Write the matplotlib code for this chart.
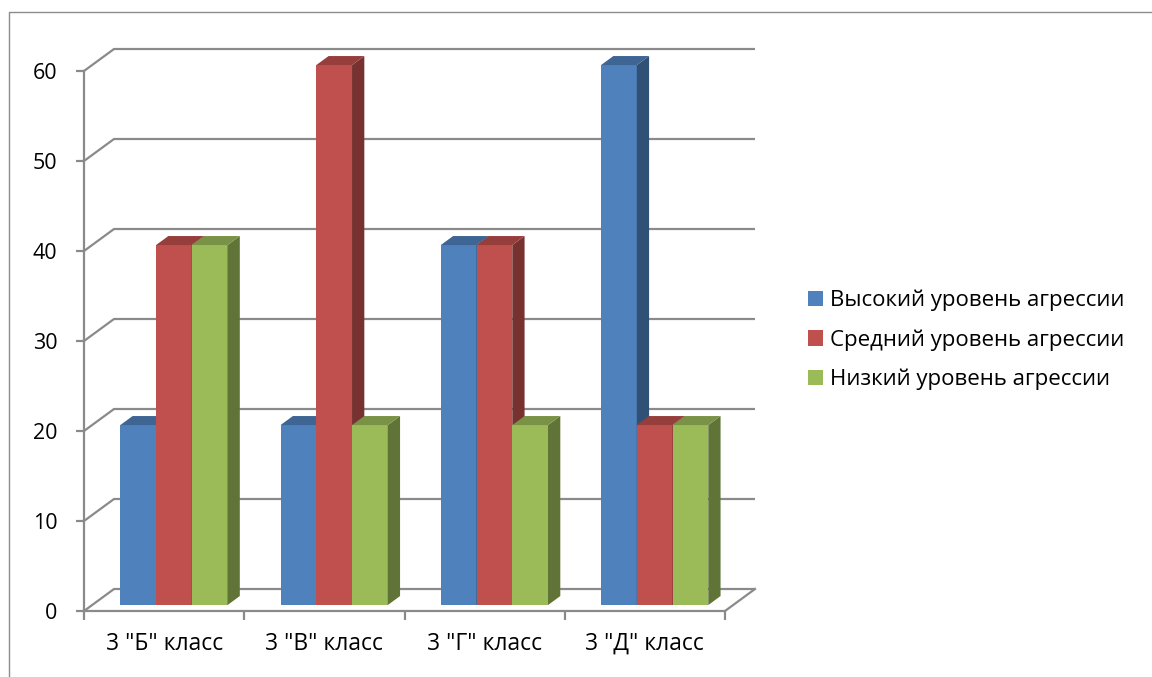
import numpy as np
import matplotlib
matplotlib.use("Agg")
import matplotlib.pyplot as plt
from matplotlib.patches import Polygon, Patch
from matplotlib.lines import Line2D

plt.rcParams['font.family'] = ['Open Sans', 'DejaVu Sans']

# данные диаграммы
classes = ['3 "Б" класс', '3 "В" класс', '3 "Г" класс', '3 "Д" класс']
series_names = ['Высокий уровень агрессии', 'Средний уровень агрессии', 'Низкий уровень агрессии']
high = [20, 20, 40, 60]
mid = [40, 60, 40, 20]
low = [40, 20, 20, 20]
y_ticks = [0, 10, 20, 30, 40, 50, 60]

values = [high, mid, low]
colors = ['#4F81BD', '#C0504D', '#9BBB59']
grid_col = '#8a8a8a'

# псевдо-3D: смещение "глубины" в единицах данных
DX = 30 / 160.25
DY = 22 / 9.0
f0, f1 = 0.27, 0.68       # передняя и задняя грани столбиков
bar_w = 0.223
bar_off = 0.176


def proj(x, y, d):
    return (x + d * DX, y + d * DY)


def shade(c, k):
    rgb = np.array(matplotlib.colors.to_rgb(c))
    return tuple(rgb * k)


fig = plt.figure(figsize=(11.52, 6.77), dpi=100)
ax = fig.add_axes([84 / 1152, (677 - 611) / 677, 641 / 1152, 540 / 677])
ax.set_xlim(0, len(classes))
ax.set_ylim(0, 60)
ax.patch.set_visible(False)

n = len(classes)

# сетка: задняя стенка + боковые диагонали
for v in y_ticks:
    pts = [proj(0, v, 0), proj(0, v, 1), proj(n, v, 1)]
    ax.plot([p[0] for p in pts], [p[1] for p in pts], color=grid_col, lw=1.6,
            clip_on=False, zorder=1, solid_capstyle='butt')
# правый край пола
p1, p2 = proj(n, 0, 1), proj(n, 0, 0)
ax.plot([p1[0], p2[0]], [p1[1], p2[1]], color=grid_col, lw=1.6, clip_on=False, zorder=1)

# столбики
for i in range(n):
    for j in range(len(values)):
        v = values[j][i]
        x0 = i + bar_off + j * bar_w
        x1 = x0 + bar_w
        c = colors[j]
        front = [proj(x0, 0, f0), proj(x1, 0, f0), proj(x1, v, f0), proj(x0, v, f0)]
        side = [proj(x1, 0, f0), proj(x1, 0, f1), proj(x1, v, f1), proj(x1, v, f0)]
        top = [proj(x0, v, f0), proj(x1, v, f0), proj(x1, v, f1), proj(x0, v, f1)]
        ax.add_patch(Polygon(front, closed=True, facecolor=c, edgecolor='none',
                             clip_on=False, zorder=3))
        ax.add_patch(Polygon(side, closed=True, facecolor=shade(c, 0.62), edgecolor='none',
                             clip_on=False, zorder=3))
        ax.add_patch(Polygon(top, closed=True, facecolor=shade(c, 0.78), edgecolor='none',
                             clip_on=False, zorder=3))

# оси
for s in ['top', 'right']:
    ax.spines[s].set_visible(False)
for s in ['left', 'bottom']:
    ax.spines[s].set_color(grid_col)
    ax.spines[s].set_linewidth(1.6)

ax.set_yticks(y_ticks)
ax.tick_params(axis='y', direction='out', length=5.8, width=1.6, color=grid_col,
               pad=13.5, labelsize=15.5, labelcolor='black')
ax.set_xticks(np.arange(n) + 0.5)
ax.set_xticklabels(classes)
ax.set_xticks(np.arange(n + 1), minor=True)
ax.tick_params(axis='x', which='major', length=0, pad=15, labelsize=16.5, labelcolor='black')
ax.tick_params(axis='x', which='minor', direction='out', length=6.5, width=1.6, color=grid_col)

# легенда
handles = [Patch(facecolor=colors[k], edgecolor='none') for k in range(len(series_names))]
fig.legend(handles, series_names, loc='center left', bbox_to_anchor=(808 / 1152, 1 - 340 / 677),
           frameon=False, fontsize=16, handlelength=0.68, handleheight=0.68,
           handletextpad=0.32, labelspacing=0.82, borderpad=0, borderaxespad=0)

# рамка области диаграммы
fig.add_artist(Line2D([9 / 1152, 9 / 1152, 1], [0, 1 - 12 / 677, 1 - 12 / 677],
                      color='#8c8c8c', lw=1, transform=fig.transFigure))

fig.savefig('out.png', dpi=100)
